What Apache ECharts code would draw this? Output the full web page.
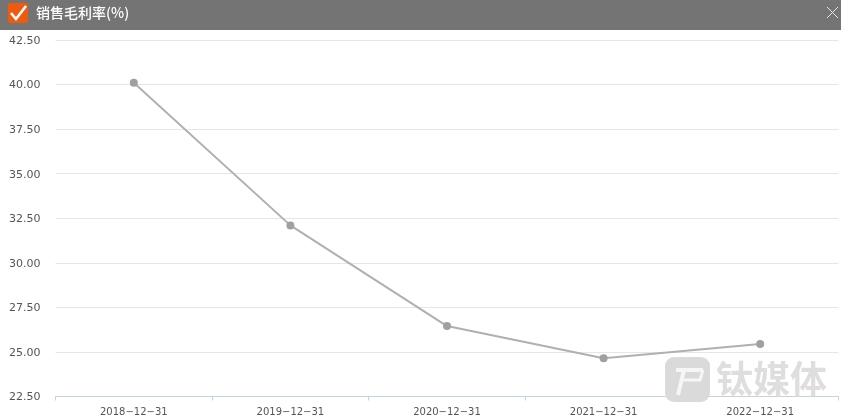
<!DOCTYPE html>
<html><head><meta charset="utf-8">
<style>html,body{margin:0;padding:0;background:#fff}#c{width:841px;height:418px}</style>
<script src="https://cdn.jsdelivr.net/npm/echarts@6/dist/echarts.min.js"></script>
</head><body><div id="c"></div>
<script>
const categories = ['2018-12-31','2019-12-31','2020-12-31','2021-12-31','2022-12-31'];
const margin = [40.1, 32.1, 26.45, 24.65, 25.45];
const titleText = '销售毛利率(%)';
const brand = '钛媒体';
const chart = echarts.init(document.getElementById('c'), null, {renderer:'canvas'});
const FONT = '"Noto Sans CJK SC",sans-serif';
const LABEL = '"DejaVu Sans",sans-serif';
chart.setOption({
  animation:false,
  grid:{left:55.5,right:2.5,top:40,bottom:21.5,containLabel:false},
  xAxis:{type:'category',data:categories,boundaryGap:true,
    axisLine:{lineStyle:{color:'#c5d3e8',width:1}},
    axisTick:{show:true,length:4,lineStyle:{color:'#c5d3e8'}},
    axisLabel:{color:'#555',fontSize:10,margin:11,fontFamily:LABEL,
      formatter:v=>v.replace(/-/g,'\u2212')},
    splitLine:{show:false}},
  yAxis:{type:'value',min:22.5,max:42.5,interval:2.5,
    axisLine:{show:false},axisTick:{show:false},
    axisLabel:{margin:15,formatter:v=>'{a|'+v.toFixed(2)+'}',
      rich:{a:{color:'#555',fontSize:11,fontFamily:LABEL,padding:[2,0,0,0]}}},
    splitLine:{lineStyle:{color:'#e6e6e6',width:1}}},
  series:[{type:'line',data:margin,smooth:false,symbol:'circle',symbolSize:8,z:5,
    lineStyle:{color:'#b0b0b0',width:2},
    itemStyle:{color:'#a0a0a0'}}],
  graphic:[
    {type:'rect',silent:true,z:10,shape:{x:0,y:0,width:841,height:30},style:{fill:'#747474'}},
    {type:'rect',silent:true,z:11,shape:{x:8,y:3,width:20,height:20,r:2},style:{fill:'#f05a0e'}},
    {type:'polyline',silent:true,z:12,shape:{points:[[11,13],[16,19],[26,6]]},style:{stroke:'#fff',lineWidth:2.6,fill:null}},
    {type:'text',silent:true,z:12,x:36,y:6,style:{text:titleText,fill:'#fff',font:'500 14px '+FONT}},
    {type:'polyline',silent:true,z:12,shape:{points:[[827,7],[838,18]]},style:{stroke:'#e6e6e6',lineWidth:1,fill:null}},
    {type:'polyline',silent:true,z:12,shape:{points:[[838,7],[827,18]]},style:{stroke:'#e6e6e6',lineWidth:1,fill:null}},
    {type:'rect',silent:true,z:3,shape:{x:665,y:357,width:45,height:45,r:9},style:{fill:'#dadada'}},
    {type:'polyline',silent:true,z:4,shape:{points:[[676,370],[703,370]]},style:{stroke:'#f6f6f6',lineWidth:4,fill:null}},
    {type:'polyline',silent:true,z:4,shape:{points:[[684,370],[678,395]]},style:{stroke:'#f6f6f6',lineWidth:4,fill:null}},
    {type:'polyline',silent:true,z:4,shape:{points:[[683,380],[700,380],[703,370]]},style:{stroke:'#f6f6f6',lineWidth:3,fill:null}},
    {type:'text',silent:true,z:3,x:716,y:360,style:{text:brand,fill:'#dedede',font:'bold 37px '+FONT}}
  ]
});
</script></body></html>
